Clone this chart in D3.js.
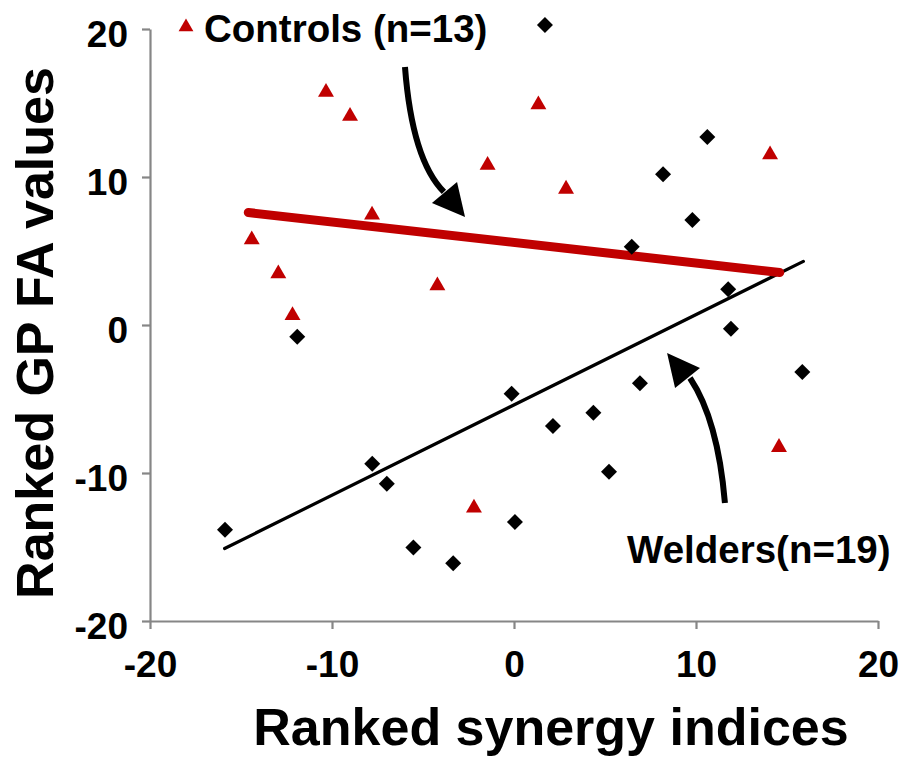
<!DOCTYPE html>
<html>
<head>
<meta charset="utf-8">
<script src="https://cdn.jsdelivr.net/npm/d3@7"></script>
<style>
  html, body { margin: 0; padding: 0; background: #fff; }
  svg { display: block; }
  text { font-family: Arial, "Liberation Sans", sans-serif; font-weight: bold; fill: #000; }
</style>
</head>
<body>
<script>
// ---------- DATA ----------
const controlsX = [-10.33, -9.01, 1.34, -1.45, 2.86, -7.80, -14.41, -12.95, -12.17, -4.21, 14.07, 14.56, -2.20];
const controlsY = [15.86, 14.24, 15.02, 10.93, 9.32, 7.57, 5.90, 3.60, 0.78, 2.79, 11.64, -8.13, -12.23];

const weldersX = [1.70, 10.62, 8.19, 9.80, 6.47, 11.77, 11.92, 15.84, -0.13, 6.92, 4.36, 2.14, 5.22, 0.05, -5.53, -3.34, -11.91, -7.79, -6.99, -15.88];
const weldersY = [20.27, 12.70, 10.18, 7.09, 5.29, 2.41, -0.25, -3.18, -4.64, -3.94, -5.93, -6.82, -9.91, -13.31, -15.03, -16.10, -0.79, -9.37, -10.72, -13.83];

const controlsFitX = [-14.6, 14.6];
const controlsFitY = [7.6, 3.55];
const weldersFitX = [-15.9, 15.9];
const weldersFitY = [-15.1, 4.3];

const xTicks = [-20, -10, 0, 10, 20];
const yTicks = [-20, -10, 0, 10, 20];
const xTickLabels = ["-20", "-10", "0", "10", "20"];
const yTickLabels = ["-20", "-10", "0", "10", "20"];

const controlsLabel = "Controls (n=13)";
const weldersLabel = "Welders(n=19)";
const xTitle = "Ranked synergy indices";
const yTitle = "Ranked GP FA values";

// annotation arrows (data units): start, control, shaft end, head corners, tip
const controlsArrow = { start: [-5.99, 17.43], ctrl: [-5.60, 11.15], end: [-3.85, 8.99], c1: [-4.51, 8.24], c2: [-3.13, 9.66], tip: [-2.69, 7.30] };
const weldersArrow  = { start: [11.59, -12.03], ctrl: [11.21, -6.42], end: [9.67, -3.58], c1: [8.85, -4.26], c2: [10.22, -2.91], tip: [8.41, -1.89] };

// ---------- CHART ----------
const W = 909, H = 760;
const RED = "#C00000", GRAY = "#868686";

const svg = d3.select("body").append("svg").attr("width", W).attr("height", H);

const x = d3.scaleLinear().domain([-20, 20]).range([150, 878]);
const y = d3.scaleLinear().domain([-20, 20]).range([621, 29]);

// axes
const xAxis = d3.axisBottom(x).tickValues(xTicks).tickSize(8).tickSizeOuter(0).tickPadding(22)
  .tickFormat((d, i) => xTickLabels[i]);
const yAxis = d3.axisLeft(y).tickValues(yTicks).tickSize(8).tickSizeOuter(0).tickPadding(14)
  .tickFormat((d, i) => yTickLabels[i]);

const gx = svg.append("g").attr("transform", `translate(0,${y(-20)})`).call(xAxis);
const gy = svg.append("g").attr("transform", `translate(${x(-20)},0)`).call(yAxis);

[gx, gy].forEach(g => {
  g.select(".domain").attr("stroke", GRAY).attr("stroke-width", 2.2);
  g.selectAll(".tick line").attr("stroke", GRAY).attr("stroke-width", 2.2);
  g.selectAll(".tick text").style("font-family", "Arial, 'Liberation Sans', sans-serif")
    .style("font-weight", "bold").style("font-size", "37px").attr("fill", "#000");
});
gx.selectAll(".tick text").attr("dy", "0.71em");
gy.selectAll(".tick text").attr("dy", "0.47em");

// axis titles
svg.append("text").attr("x", 551).attr("y", 745).attr("text-anchor", "middle")
  .style("font-size", "52px").text(xTitle);
svg.append("text").attr("transform", `translate(53,${333}) rotate(-90)`).attr("text-anchor", "middle")
  .style("font-size", "52px").text(yTitle);

// fit lines
const line = d3.line().x(d => x(d[0])).y(d => y(d[1]));
svg.append("path").datum(d3.zip(weldersFitX, weldersFitY)).attr("d", line)
  .attr("fill", "none").attr("stroke", "#000").attr("stroke-width", 3.2).attr("stroke-linecap", "round");
svg.append("path").datum(d3.zip(controlsFitX, controlsFitY)).attr("d", line)
  .attr("fill", "none").attr("stroke", RED).attr("stroke-width", 9).attr("stroke-linecap", "round");

// markers
const diamond = d3.symbol().type(d3.symbolSquare).size(128);
svg.append("g").selectAll("path").data(d3.zip(weldersX, weldersY)).join("path")
  .attr("d", diamond)
  .attr("transform", d => `translate(${x(d[0])},${y(d[1])}) rotate(45)`)
  .attr("fill", "#000");

const tri = d3.symbol().type(d3.symbolTriangle).size(110);
svg.append("g").selectAll("path").data(d3.zip(controlsX, controlsY)).join("path")
  .attr("d", tri)
  .attr("transform", d => `translate(${x(d[0])},${y(d[1]) + 2})`)
  .attr("fill", RED);

// legend / labels
svg.append("path").attr("d", d3.symbol().type(d3.symbolTriangle).size(95))
  .attr("transform", "translate(186,27)").attr("fill", RED);
svg.append("text").attr("x", 204).attr("y", 42).style("font-size", "38.5px").text(controlsLabel);
svg.append("text").attr("x", 627).attr("y", 563).style("font-size", "38.5px").text(weldersLabel);

// arrows
function drawArrow(a) {
  const p = d3.path();
  p.moveTo(x(a.start[0]), y(a.start[1]));
  p.quadraticCurveTo(x(a.ctrl[0]), y(a.ctrl[1]), x(a.end[0]), y(a.end[1]));
  svg.append("path").attr("d", p.toString()).attr("fill", "none")
    .attr("stroke", "#000").attr("stroke-width", 6);
  svg.append("path").datum([a.c1, a.tip, a.c2])
    .attr("d", d => line(d) + "Z").attr("fill", "#000");
}
drawArrow(controlsArrow);
drawArrow(weldersArrow);
</script>
</body>
</html>
